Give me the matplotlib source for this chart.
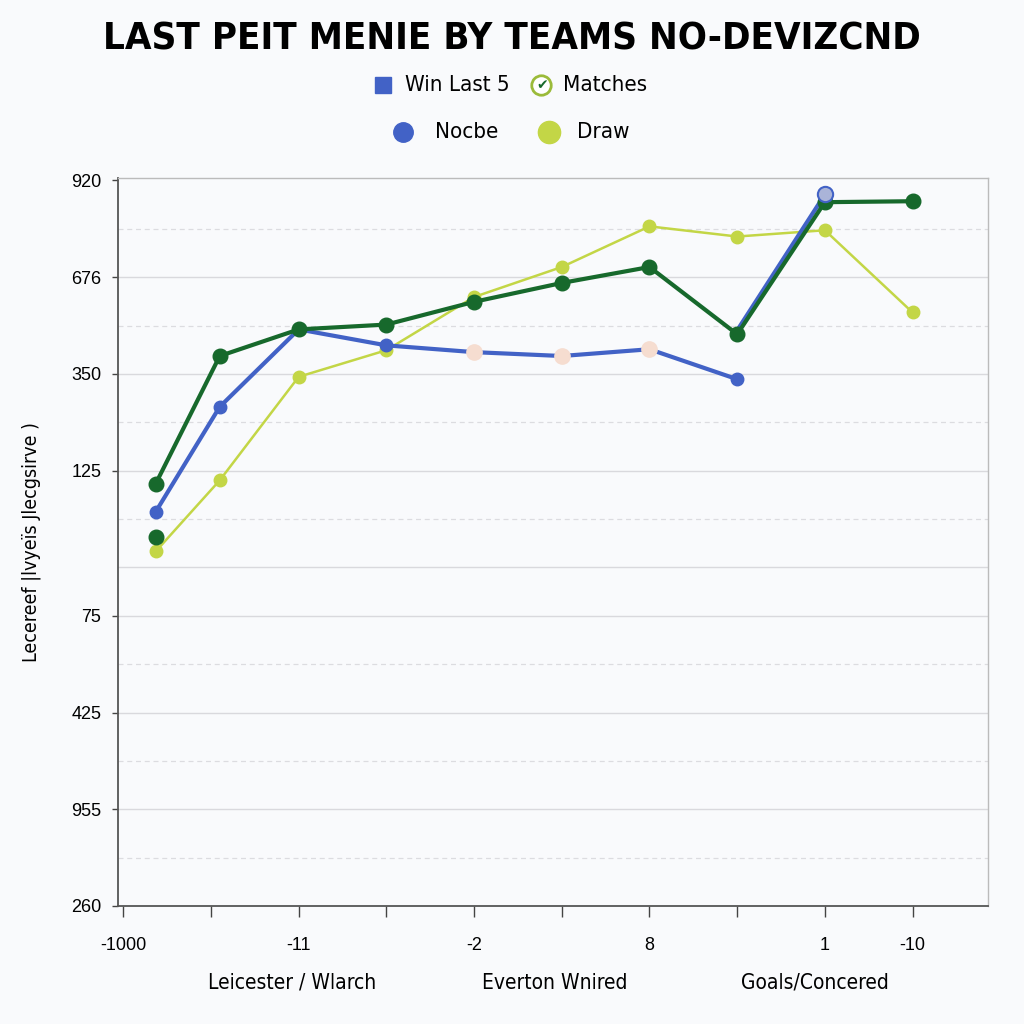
import matplotlib
matplotlib.use("Agg")
import matplotlib.pyplot as plt
from matplotlib.lines import Line2D

# ---- data ----
title = "LAST PEIT MENIE BY TEAMS NO-DEVIZCND"
x_pos = [0.37, 1.1, 2, 3, 4, 5, 6, 7, 8, 9]
green_vals = [8.73, 11.37, 11.92, 12.02, 12.49, 12.88, 13.21, 11.82, 14.55, 14.57]
green_extra_x = [0.37]
green_extra_vals = [7.63]
blue_x = [0.37, 1.1, 2, 3, 4, 5, 6, 7]
blue_vals = [8.15, 10.32, 11.92, 11.59, 11.45, 11.37, 11.51, 10.89]
blue_jump_x = [7, 8]
blue_jump_vals = [11.90, 14.71]
lime_vals = [7.33, 8.80, 10.94, 11.49, 12.59, 13.21, 14.05, 13.84, 13.97, 12.27]
peach_x = [4, 5, 6]
peach_vals = [11.45, 11.37, 11.51]
ytick_pos = [15, 13, 11, 9, 6, 4, 2, 0]
ytick_labels = ["920", "676", "350", "125", "75", "425", "955", "260"]
xtick_pos = list(range(10))
xtick_labels = ["-1000", "", "-11", "", "-2", "", "8", "", "1", "-10"]
group_labels = ["Leicester / Wlarch", "Everton Wnired", "Goals/Concered"]
legend_labels = ["Win Last 5", "Matches", "Nocbe", "Draw"]
ylabel = "Lecereef |lvyeïs Jlecgsirve )"

GREEN = "#17692c"
BLUE = "#4262c6"
LIME = "#c3d646"
PEACH = "#f6ddd0"
BG = "#f9fafc"
COND = dict(family=["DejaVu Sans"], fontstretch="condensed")

fig = plt.figure(figsize=(10.24, 10.24), dpi=100, facecolor=BG)
ax = fig.add_axes([118/1024, 118/1024, 870/1024, 728/1024], facecolor=BG)

# grid lines
solid_k = [2, 4, 6, 7, 9, 11, 13]
dashed_k = [1, 3, 5, 8, 10, 12, 14]
for k in solid_k:
    ax.axhline(k, color="#d9d9dd", lw=1.0, zorder=0)
for k in dashed_k:
    ax.axhline(k, color="#dcdce0", lw=0.9, ls=(0, (4, 3)), zorder=0)

ax.plot(x_pos, lime_vals, color=LIME, lw=1.8, marker="o", ms=9, zorder=3)
ax.plot(blue_x, blue_vals, color=BLUE, lw=3, marker="o", ms=9, zorder=4)
ax.plot(peach_x, peach_vals, ls="none", marker="o", ms=11, color=PEACH, zorder=5)
ax.plot(blue_jump_x, blue_jump_vals, color=BLUE, lw=3, zorder=4)
ax.plot(blue_jump_x[1:], blue_jump_vals[1:], ls="none", marker="o", ms=11,
        mfc="#aab4d8", mec=BLUE, mew=1.5, zorder=7)
ax.plot(x_pos, green_vals, color=GREEN, lw=3, marker="o", ms=10.5, zorder=6)
ax.plot(green_extra_x, green_extra_vals, ls="none", marker="o", ms=10.5, color=GREEN, zorder=6)

ax.set_xlim(-0.06, 9.86)
ax.set_ylim(0, 15.05)
ax.set_yticks(ytick_pos)
ax.set_yticklabels(ytick_labels, fontsize=13, family=["Liberation Sans", "DejaVu Sans"])
ax.set_xticks(xtick_pos)
ax.set_xticklabels(xtick_labels, fontsize=13, family=["Liberation Sans", "DejaVu Sans"])
ax.tick_params(axis="x", length=8, width=1, color="#444444", pad=14)
ax.tick_params(axis="y", length=4, width=1, color="#444444", pad=8)
for s in ["left", "bottom"]:
    ax.spines[s].set_color("#555555")
    ax.spines[s].set_linewidth(1.3)
for s in ["top", "right"]:
    ax.spines[s].set_color("#bbbbbb")
    ax.spines[s].set_linewidth(1.0)

ax.set_ylabel(ylabel, fontsize=14, labelpad=22, **COND)

# group labels under the axis
for gx, lab in zip([292, 555, 815], group_labels):
    fig.text(gx/1024, 1 - 983/1024, lab, ha="center", va="center", fontsize=15, **COND)

# title
fig.text(0.5, 1 - 40/1024, title, ha="center", va="center", fontsize=27.5,
         fontweight="heavy", **COND)

# legend drawn at figure level
def fx(px):
    return px / 1024
def fy(py):
    return 1 - py / 1024

fig.add_artist(Line2D([fx(383)], [fy(85)], marker="s", ms=12, color=BLUE, ls="none",
                      transform=fig.transFigure))
fig.text(fx(405), fy(85), legend_labels[0], ha="left", va="center", fontsize=16, **COND)
fig.add_artist(Line2D([fx(541)], [fy(85)], marker="o", ms=14, mfc="white", mec="#9bbb3a",
                      mew=2, ls="none", transform=fig.transFigure))
fig.text(fx(542), fy(85), "\u2714", ha="center", va="center", fontsize=10, color=GREEN,
         family="DejaVu Sans")
fig.text(fx(563), fy(85), legend_labels[1], ha="left", va="center", fontsize=16, **COND)
fig.add_artist(Line2D([fx(403)], [fy(132)], marker="o", ms=14, color=BLUE, ls="none",
                      transform=fig.transFigure))
fig.text(fx(435), fy(132), legend_labels[2], ha="left", va="center", fontsize=16, **COND)
fig.add_artist(Line2D([fx(549)], [fy(132)], marker="o", ms=16, color=LIME, ls="none",
                      transform=fig.transFigure))
fig.text(fx(577), fy(132), legend_labels[3], ha="left", va="center", fontsize=16, **COND)

fig.savefig("out.png", dpi=100, facecolor=BG)
